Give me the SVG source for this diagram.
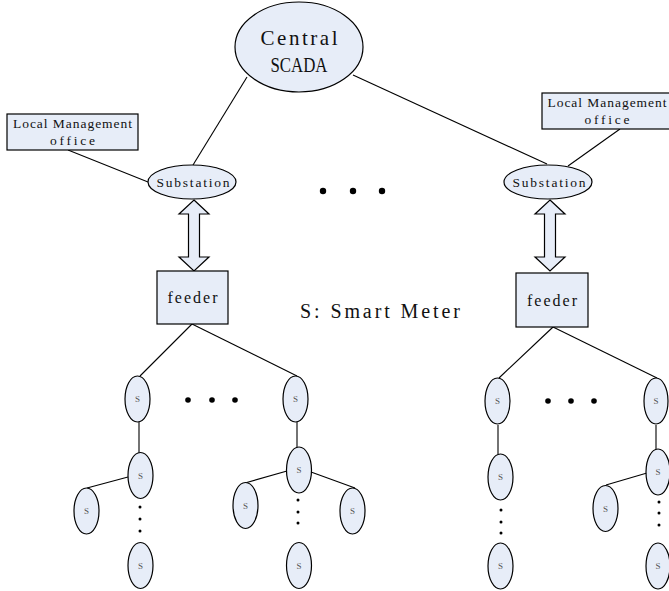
<svg xmlns="http://www.w3.org/2000/svg" width="669" height="591" viewBox="0 0 669 591">
<style>
.n{fill:#E7EDF8;stroke:#000;stroke-width:1.2}
.c{stroke:#000;stroke-width:1.1;fill:none}
.t{font-family:"Liberation Serif","Noto Sans CJK SC",serif;fill:#111;text-anchor:middle}
.s{font-family:"Liberation Serif",serif;font-size:9px;fill:#555;text-anchor:middle}
.d{fill:#000}
</style>
<rect width="669" height="591" fill="#fff"/>
<g id="connectors">
<line class="c" x1="68" y1="150" x2="148" y2="182"/>
<line class="c" x1="193" y1="165" x2="247" y2="77"/>
<line class="c" x1="353" y1="75" x2="547" y2="164"/>
<line class="c" x1="620" y1="129" x2="568" y2="166"/>
<line class="c" x1="192" y1="324" x2="140" y2="376"/>
<line class="c" x1="192" y1="324" x2="297" y2="376"/>
<line class="c" x1="139" y1="422" x2="139" y2="453"/>
<line class="c" x1="87" y1="488" x2="128" y2="477"/>
<line class="c" x1="297" y1="422" x2="297" y2="447"/>
<line class="c" x1="245" y1="483" x2="287" y2="471"/>
<line class="c" x1="311" y1="472" x2="355" y2="488"/>
<line class="c" x1="553" y1="327" x2="499" y2="378"/>
<line class="c" x1="553" y1="327" x2="657" y2="378"/>
<line class="c" x1="498" y1="425" x2="498" y2="454"/>
<line class="c" x1="656" y1="425" x2="656" y2="449"/>
<line class="c" x1="606" y1="485" x2="647" y2="473"/>
<path class="n" d="M194,200 L209,214 L199.5,214 L199.5,257 L209,257 L194,271 L179,257 L188.5,257 L188.5,214 L179,214 Z"/>
<path class="n" d="M550,200 L565,214 L555.5,214 L555.5,257 L565,257 L550,271 L535,257 L544.5,257 L544.5,214 L535,214 Z"/>
</g>
<g id="central"><ellipse class="n" cx="299" cy="47" rx="64" ry="45"/><text class="t" x="299" y="45" font-size="21" textLength="77" lengthAdjust="spacing">Central</text><text class="t" x="299" y="72" font-size="21" textLength="57" lengthAdjust="spacingAndGlyphs">SCADA</text></g>
<g id="lmo-left"><rect class="n" x="7" y="114" width="131" height="36"/><text class="t" x="72.5" y="128" font-size="13.5" textLength="119" lengthAdjust="spacing">Local Management</text><text class="t" x="72.5" y="145" font-size="13.5" textLength="45" lengthAdjust="spacing">office</text></g>
<g id="lmo-right"><rect class="n" x="542" y="93" width="130" height="36"/><text class="t" x="607" y="107" font-size="13.5" textLength="119" lengthAdjust="spacing">Local Management</text><text class="t" x="607" y="124" font-size="13.5" textLength="45" lengthAdjust="spacing">office</text></g>
<g id="sub-left"><ellipse class="n" cx="192" cy="182" rx="44" ry="17"/><text class="t" x="193" y="187" font-size="13.5" textLength="73" lengthAdjust="spacing">Substation</text></g>
<g id="sub-right"><ellipse class="n" cx="548" cy="182" rx="44" ry="17"/><text class="t" x="549" y="187" font-size="13.5" textLength="73" lengthAdjust="spacing">Substation</text></g>
<g id="feeder-left"><rect class="n" x="157" y="271" width="71" height="53"/><text class="t" x="192.5" y="303" font-size="16" textLength="50" lengthAdjust="spacing">feeder</text></g>
<g id="feeder-right"><rect class="n" x="516" y="273" width="72" height="54"/><text class="t" x="552" y="306" font-size="16" textLength="50" lengthAdjust="spacing">feeder</text></g>
<g id="legend"><text class="t" x="380" y="318" font-size="20" textLength="160" lengthAdjust="spacing">S: Smart Meter</text></g>
<g id="dots">
<circle class="d" cx="323" cy="191" r="3.2"/><circle class="d" cx="353" cy="191" r="3.2"/><circle class="d" cx="382" cy="191" r="3.2"/>
<circle class="d" cx="188" cy="400" r="2.8"/><circle class="d" cx="212" cy="400" r="2.8"/><circle class="d" cx="235" cy="400" r="2.8"/>
<circle class="d" cx="548" cy="401" r="2.8"/><circle class="d" cx="571" cy="401" r="2.8"/><circle class="d" cx="594" cy="401" r="2.8"/>
<circle class="d" cx="140" cy="507" r="1.5"/><circle class="d" cx="140" cy="519" r="1.5"/><circle class="d" cx="140" cy="531" r="1.5"/>
<circle class="d" cx="298" cy="500" r="1.5"/><circle class="d" cx="298" cy="512" r="1.5"/><circle class="d" cx="298" cy="523" r="1.5"/>
<circle class="d" cx="501" cy="510" r="1.5"/><circle class="d" cx="501" cy="522" r="1.5"/><circle class="d" cx="501" cy="533" r="1.5"/>
<circle class="d" cx="659" cy="502" r="1.5"/><circle class="d" cx="659" cy="513" r="1.5"/><circle class="d" cx="659" cy="525" r="1.5"/>
</g>
<g id="s1"><ellipse class="n" cx="137.5" cy="399" rx="12.5" ry="23"/><text class="s" x="137.5" y="402">S</text></g>
<g id="s2"><ellipse class="n" cx="295.5" cy="399" rx="12.5" ry="23"/><text class="s" x="295.5" y="402">S</text></g>
<g id="s3"><ellipse class="n" cx="140.5" cy="475.5" rx="12.5" ry="23"/><text class="s" x="140.5" y="478.5">S</text></g>
<g id="s4"><ellipse class="n" cx="86.5" cy="511" rx="12.5" ry="23"/><text class="s" x="86.5" y="514">S</text></g>
<g id="s5"><ellipse class="n" cx="140.5" cy="565.5" rx="12.5" ry="23"/><text class="s" x="140.5" y="568.5">S</text></g>
<g id="s6"><ellipse class="n" cx="299" cy="470" rx="12.5" ry="23"/><text class="s" x="299" y="473">S</text></g>
<g id="s7"><ellipse class="n" cx="245.5" cy="505.5" rx="12.5" ry="23"/><text class="s" x="245.5" y="508.5">S</text></g>
<g id="s8"><ellipse class="n" cx="352.5" cy="511" rx="12.5" ry="23"/><text class="s" x="352.5" y="514">S</text></g>
<g id="s9"><ellipse class="n" cx="299" cy="565.5" rx="12.5" ry="23"/><text class="s" x="299" y="568.5">S</text></g>
<g id="s10"><ellipse class="n" cx="497.5" cy="401" rx="12.5" ry="23"/><text class="s" x="497.5" y="404">S</text></g>
<g id="s11"><ellipse class="n" cx="656" cy="401" rx="12" ry="23"/><text class="s" x="656" y="404">S</text></g>
<g id="s12"><ellipse class="n" cx="500.5" cy="477" rx="12.5" ry="23"/><text class="s" x="500.5" y="480">S</text></g>
<g id="s13"><ellipse class="n" cx="500.5" cy="566" rx="12.5" ry="23"/><text class="s" x="500.5" y="569">S</text></g>
<g id="s14"><ellipse class="n" cx="658" cy="472" rx="12" ry="23"/><text class="s" x="658" y="475">S</text></g>
<g id="s15"><ellipse class="n" cx="605.5" cy="508.5" rx="12.5" ry="23"/><text class="s" x="605.5" y="511.5">S</text></g>
<g id="s16"><ellipse class="n" cx="658" cy="566" rx="12" ry="23"/><text class="s" x="658" y="569">S</text></g>
</svg>
